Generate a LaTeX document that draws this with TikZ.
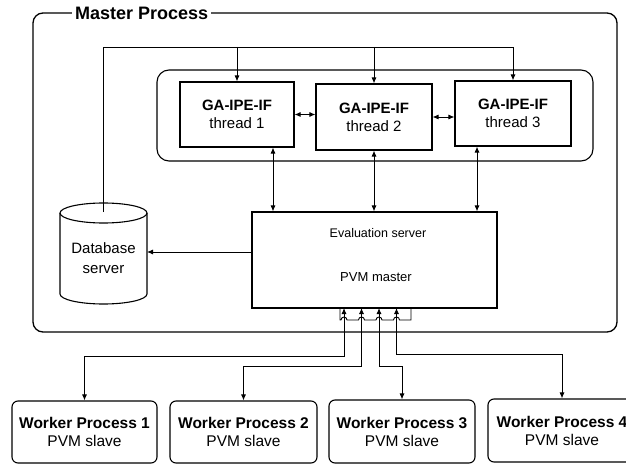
\documentclass[tikz,border=0pt]{standalone}
\usepackage{fontspec}
\setmainfont{Liberation Sans}
\usetikzlibrary{arrows.meta}
\begin{document}
\begin{tikzpicture}[x=1pt,y=-1pt,
  conn/.style={line width=0.9pt},
  arr/.style={conn,-{Latex[length=6pt,width=5pt]}},
  darr/.style={conn,{Latex[length=6pt,width=5pt]}-{Latex[length=6pt,width=5pt]}},
  box/.style={draw,line width=1.1pt,inner sep=0pt,align=center},
  thr/.style={box,minimum height=65pt,font=\fontsize{15}{18}\selectfont},
  wrk/.style={box,rounded corners=6pt,minimum height=62pt,font=\fontsize{15.5}{18}\selectfont},
  lbl/.style={inner sep=0pt,align=center}]
\useasboundingbox (0,0) rectangle (626,465);
% master process frame
\node[box,line width=1.3pt,rounded corners=10pt,minimum width=584pt,minimum height=319pt] (master) at (325,172.5) {};
\node[fill=white,inner xsep=3pt,inner ysep=1pt,anchor=west,font=\bfseries\fontsize{18}{20}\selectfont] (mtitle) at (72,13) {Master Process};
% thread pool
\node[box,rounded corners=12pt,minimum width=436pt,minimum height=91pt] (pool) at (375,115.5) {};
\node[thr,minimum width=114pt] (t1) at (237,114.5) {\textbf{GA-IPE-IF}\\thread 1};
\node[thr,minimum width=116pt,minimum height=66pt] (t2) at (374,117) {\textbf{GA-IPE-IF}\\thread 2};
\node[thr,minimum width=116pt] (t3) at (513,113.5) {\textbf{GA-IPE-IF}\\thread 3};
% evaluation server
\node[box,minimum width=245pt,minimum height=96pt] (ev) at (374.5,260) {};
\node[lbl,font=\fontsize{12.5}{15}\selectfont] (evt) at (378,233) {Evaluation server};
\node[lbl,font=\fontsize{13}{15}\selectfont] (pvm) at (376,277) {PVM master};
% database cylinder
\draw[line width=1.1pt] (60,213) -- (60,294) arc[start angle=180,end angle=360,x radius=43.5pt,y radius=10pt] -- (147,213);
\draw[line width=1.1pt] (103.5,213) ellipse[x radius=43.5pt,y radius=10pt];
\node[lbl,font=\fontsize{15}{20}\selectfont] (db) at (103.5,258) {Database\\server};
% workers
\node[wrk,minimum width=145pt] (w1) at (84.5,432) {\textbf{Worker Process 1}\\PVM slave};
\node[wrk,minimum width=147pt] (w2) at (243.5,432) {\textbf{Worker Process 2}\\PVM slave};
\node[wrk,minimum width=146pt,minimum height=63pt] (w3) at (402,431.5) {\textbf{Worker Process 3}\\PVM slave};
\node[wrk,minimum width=148pt,minimum height=63pt] (w4) at (562,430.5) {\textbf{Worker Process 4}\\PVM slave};
% coordinates
\coordinate (bus) at (0,47);
\coordinate (dbtop) at (103.5,212);
\coordinate (dbr) at (147,252);
\coordinate (b1) at (344,308);
\coordinate (b2) at (361.5,308);
\coordinate (b3) at (379,308);
\coordinate (b4) at (396.5,308);
\coordinate (l1) at (0,356);
\coordinate (l2) at (0,366);
\coordinate (l4) at (0,354);
\coordinate (busL) at (340,308);
\coordinate (busR) at (411,308);
% feed lines from database to threads
\draw[arr] (dbtop) |- (t3.north |- bus) -- (t3.north);
\draw[arr] (t1.north |- bus) -- (t1.north);
\draw[arr] (t2.north |- bus) -- (t2.north);
% thread links
\draw[darr] (t1.east) -- (t1.east -| t2.west);
\draw[darr] (t2.east) -- (t2.east -| t3.west);
\draw[darr] ([xshift=36pt]t1.south) -- ([xshift=36pt]t1.south |- ev.north);
\draw[darr] (t2.south) -- (t2.south |- ev.north);
\draw[darr] ([xshift=-36pt]t3.south) -- ([xshift=-36pt]t3.south |- ev.north);
\draw[arr] (ev.west |- dbr) -- (dbr);
% bus with hops
\draw[conn] (busL) -- (340,320) -- (341,320) arc[start angle=180,end angle=0,radius=3pt]
  -- (358.5,320) arc[start angle=180,end angle=0,radius=3pt]
  -- (376,320) arc[start angle=180,end angle=0,radius=3pt]
  -- (393.5,320) arc[start angle=180,end angle=0,radius=3pt]
  -- (411,320) -- (busR);
% worker links
\draw[darr] (b1) |- (w1.north |- l1) -- (w1.north);
\draw[darr] (b2) |- (w2.north |- l2) -- (w2.north);
\draw[darr] (b3) |- (w3.north |- l2) -- (w3.north);
\draw[darr] (b4) |- (w4.north |- l4) -- (w4.north);
\end{tikzpicture}
\end{document}
